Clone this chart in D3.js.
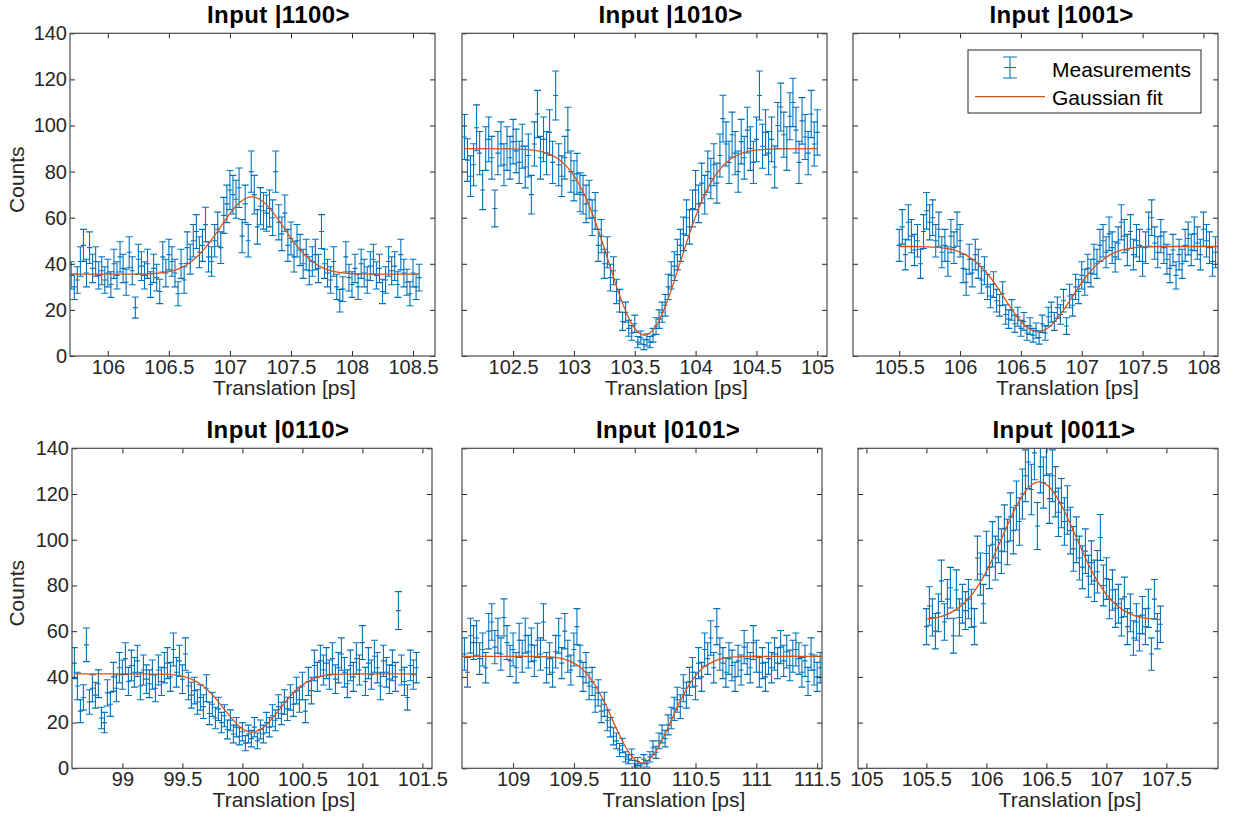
<!DOCTYPE html>
<html>
<head>
<meta charset="utf-8">
<script src="https://cdn.jsdelivr.net/npm/d3@7"></script>
<style>
body { margin: 0; background: #fff; }
text { font-family: "Liberation Sans", Arial, Helvetica, sans-serif; }
</style>
</head>
<body>
<svg width="1235" height="819"></svg>
<script>
// ---- data ----
var titles = ["Input |1100>", "Input |1010>", "Input |1001>", "Input |0110>", "Input |0101>", "Input |0011>"];
var xLimits = [[105.69, 108.68], [102.08, 105.08], [105.12, 108.12], [98.58, 101.58], [108.58, 111.54], [104.93, 107.93]];
var xTickValues = [
    [106, 106.5, 107, 107.5, 108, 108.5],
    [102.5, 103, 103.5, 104, 104.5, 105],
    [105.5, 106, 106.5, 107, 107.5, 108],
    [99, 99.5, 100, 100.5, 101, 101.5],
    [109, 109.5, 110, 110.5, 111, 111.5],
    [105, 105.5, 106, 106.5, 107, 107.5]
];
var yTickValues = [0, 20, 40, 60, 80, 100, 120, 140];

// translation scan: first position and step (ps)
var scanStart = [105.70, 102.10, 105.50, 98.60, 108.60, 105.50];
var scanStep = 0.025;

var counts1100 = [35,30,33,41,48,36,47,38,41,35,37,33,36,31,40,35,43,38,32,45,37,21,42,39,35,40,31,38,34,28,
    43,36,44,41,36,27,40,33,47,42,50,54,45,48,57,43,41,50,55,47,61,66,72,70,68,73,52,66,50,80,
    70,56,65,63,62,64,60,80,58,53,62,48,51,43,50,46,40,44,37,41,44,38,54,40,36,33,41,30,24,29,
    43,34,31,38,30,40,36,33,39,42,35,38,28,33,41,37,39,31,44,36,32,27,36,30,34];
var counts1010 = [95,85,78,83,99,88,72,90,94,86,64,88,92,83,90,86,93,89,84,91,82,87,70,92,105,86,94,88,97,84,
    113,83,78,86,98,80,76,79,71,70,66,68,60,63,48,52,40,45,34,37,28,24,15,19,12,10,14,6,8,5,
    7,6,9,13,16,19,22,30,35,39,44,48,53,60,56,64,72,66,75,70,80,77,83,75,87,103,92,84,96,88,
    80,93,86,98,90,84,94,113,91,97,88,94,82,100,108,96,90,104,110,98,84,102,95,88,105,92,97];
var counts1001 = [48,56,44,58,52,46,50,40,54,63,58,60,50,55,45,48,41,52,47,55,50,38,32,42,36,44,40,33,37,30,
    26,31,24,22,27,18,16,20,14,17,12,15,10,13,9,11,8,14,10,17,19,15,21,18,24,13,26,22,30,28,
    35,32,38,36,42,40,48,50,45,53,47,43,49,58,52,46,54,44,50,48,41,47,55,60,49,45,52,47,42,38,
    46,35,44,40,48,51,46,53,49,44,55,50,47,41,45];
var counts0110 = [46,36,25,31,54,29,35,32,37,22,20,33,28,40,35,44,41,48,38,45,42,47,36,43,39,37,41,35,43,38,
    44,46,40,52,42,47,39,50,36,32,34,29,31,27,35,24,28,22,26,20,23,17,21,15,18,14,16,11,15,13,
    18,12,17,15,20,18,23,21,27,24,29,26,31,28,34,30,36,25,38,34,45,40,47,43,46,41,48,39,44,50,
    42,37,45,40,48,43,55,38,46,41,49,44,36,47,42,39,45,40,69,43,38,31,45,41,44];
var counts0101 = [50,42,58,55,57,48,52,44,60,64,53,58,50,66,55,47,52,44,56,49,58,51,54,47,56,50,64,44,48,42,
    51,58,46,60,49,43,52,62,47,40,44,36,38,30,33,25,28,21,18,14,12,8,10,5,4,6,2,3,1,4,
    2,5,9,7,12,15,13,19,22,26,30,27,35,32,38,42,36,46,40,52,48,57,44,62,50,46,42,48,45,40,
    47,43,53,48,44,55,49,42,46,40,48,44,50,46,53,47,51,45,49,52,48,42,47,38,50,43,40,44];
var counts0011 = [62,71,66,60,68,82,64,74,79,58,78,66,72,69,74,70,62,92,85,72,94,88,98,92,100,95,105,99,110,104,
    115,108,120,128,134,122,138,106,132,125,140,118,128,121,112,116,108,113,104,96,100,92,88,95,84,90,82,86,101,80,
    83,74,78,70,72,66,75,62,68,57,64,59,67,62,70,50,74,60,63];

// Gaussian fit curves, sampled off the figure
var fitX1100 = [105.70,106.18,106.28,106.38,106.48,106.58,106.68,106.78,106.88,106.98,107.08,107.18,107.28,107.38,107.48,107.58,107.68,107.78,107.88,107.98,108.08,108.18,108.55];
var fitY1100 = [35.5,35.5,35.6,35.8,36.4,37.8,40.8,45.8,52.7,60.4,66.6,69.0,66.6,60.4,52.7,45.8,40.8,37.8,36.4,35.8,35.6,35.5,35.5];
var fitX1010 = [102.10,102.48,102.58,102.68,102.78,102.88,102.98,103.08,103.18,103.28,103.38,103.48,103.58,103.68,103.78,103.88,103.98,104.08,104.18,104.28,104.38,104.48,104.58,104.68,105.00];
var fitY1010 = [90.0,89.9,89.7,89.2,88.0,85.1,79.8,70.7,57.7,41.7,25.6,13.5,9.0,13.5,25.6,41.7,57.7,70.7,79.8,85.1,88.0,89.2,89.7,89.9,90.0];
var fitX1001 = [105.50,105.64,105.74,105.84,105.94,106.04,106.14,106.24,106.34,106.44,106.54,106.64,106.74,106.84,106.94,107.04,107.14,107.24,107.34,107.44,107.54,107.64,108.12];
var fitY1001 = [47.5,47.5,47.3,47.0,46.1,44.1,40.4,34.7,27.1,19.1,12.9,10.5,12.9,19.1,27.1,34.7,40.4,44.1,46.1,47.0,47.3,47.5,47.5];
var fitX0110 = [98.60,99.18,99.28,99.38,99.48,99.58,99.68,99.78,99.88,99.98,100.08,100.18,100.28,100.38,100.48,100.58,100.68,100.78,100.88,100.98,101.45];
var fitY0110 = [41.3,41.3,41.2,41.1,40.5,38.9,35.7,30.4,23.8,18.1,15.8,18.1,23.8,30.4,35.7,38.9,40.5,41.1,41.2,41.3,41.3];
var fitX0101 = [108.58,109.16,109.26,109.36,109.46,109.56,109.66,109.76,109.86,109.96,110.06,110.16,110.26,110.36,110.46,110.56,110.66,110.76,110.86,110.96,111.54];
var fitY0101 = [49.0,49.0,48.8,48.4,47.0,43.9,37.6,27.9,16.2,6.3,2.3,6.3,16.2,27.9,37.6,43.9,47.0,48.4,48.8,49.0,49.0];
var fitX0011 = [105.50,105.64,105.74,105.84,105.94,106.04,106.14,106.24,106.34,106.44,106.54,106.64,106.74,106.84,106.94,107.04,107.14,107.24,107.34,107.45];
var fitY0011 = [65.3,66.7,69.2,73.5,80.6,90.4,102.1,113.6,122.2,125.3,122.2,113.6,102.1,90.4,80.6,73.5,69.2,66.7,65.6,65.0];

var allCounts = [counts1100, counts1010, counts1001, counts0110, counts0101, counts0011];
var allFitX = [fitX1100, fitX1010, fitX1001, fitX0110, fitX0101, fitX0011];
var allFitY = [fitY1100, fitY1010, fitY1001, fitY0110, fitY0101, fitY0011];

// ---- layout ----
var boxes = [
    [70, 435, 33.3, 356], [462, 827, 33.3, 356], [853, 1218, 33.3, 356],
    [72, 432, 448.3, 768.3], [462, 822, 448.3, 768.3], [858, 1218, 448.3, 768.3]
];
var blue = "#0072BD", orange = "#D95319", axisCol = "#262626";

var svg = d3.select("svg");
var defs = svg.append("defs");

boxes.forEach(function (b, p) {
    var x = d3.scaleLinear().domain(xLimits[p]).range([b[0], b[1]]);
    var y = d3.scaleLinear().domain([0, 140]).range([b[3], b[2]]);
    var g = svg.append("g");

    defs.append("clipPath").attr("id", "clip" + p)
        .append("rect").attr("x", b[0]).attr("y", b[2])
        .attr("width", b[1] - b[0]).attr("height", b[3] - b[2]);

    var pts = allCounts[p].map(function (c, i) {
        return { x: scanStart[p] + i * scanStep, c: c, e: Math.sqrt(c) }; // Poisson error
    });

    var plot = g.append("g").attr("clip-path", "url(#clip" + p + ")");

    plot.selectAll("path.eb").data(pts).enter().append("path")
        .attr("class", "eb")
        .attr("fill", "none")
        .attr("stroke", blue)
        .attr("stroke-width", 1.1)
        .attr("d", function (d) {
            var px = x(d.x), lo = y(d.c - d.e), hi = y(d.c + d.e), mid = y(d.c);
            return "M" + px + "," + lo + "V" + hi +
                "M" + (px - 3.5) + "," + lo + "h7" +
                "M" + (px - 3.5) + "," + hi + "h7" +
                "M" + (px - 2.5) + "," + mid + "h5";
        });

    var line = d3.line()
        .x(function (d) { return x(d[0]); })
        .y(function (d) { return y(d[1]); })
        .curve(d3.curveMonotoneX);
    plot.append("path")
        .datum(d3.zip(allFitX[p], allFitY[p]))
        .attr("fill", "none")
        .attr("stroke", orange)
        .attr("stroke-width", 1.3)
        .attr("d", line);

    // axes: ticks inward on all four sides
    var fmt = d3.format(".5~g");
    var showY = (p % 3 === 0);
    var axB = g.append("g").attr("transform", "translate(0," + b[3] + ")")
        .call(d3.axisBottom(x).tickValues(xTickValues[p]).tickFormat(fmt)
            .tickSizeInner(-5).tickSizeOuter(0).tickPadding(4));
    var axT = g.append("g").attr("transform", "translate(0," + b[2] + ")")
        .call(d3.axisTop(x).tickValues(xTickValues[p]).tickFormat("")
            .tickSizeInner(-5).tickSizeOuter(0));
    var axL = g.append("g").attr("transform", "translate(" + b[0] + ",0)")
        .call(d3.axisLeft(y).tickValues(yTickValues).tickFormat(showY ? d3.format("d") : "")
            .tickSizeInner(-5).tickSizeOuter(0).tickPadding(3));
    var axR = g.append("g").attr("transform", "translate(" + b[1] + ",0)")
        .call(d3.axisRight(y).tickValues(yTickValues).tickFormat("")
            .tickSizeInner(-5).tickSizeOuter(0));
    [axB, axT, axL, axR].forEach(function (a) {
        a.attr("color", axisCol);
        a.select(".domain").remove();
        a.selectAll("text")
            .attr("font-family", "'Liberation Sans', Arial, sans-serif")
            .attr("font-size", 20)
            .attr("fill", "#262626");
    });

    g.append("rect")
        .attr("x", b[0]).attr("y", b[2])
        .attr("width", b[1] - b[0]).attr("height", b[3] - b[2])
        .attr("fill", "none").attr("stroke", "#4a4a4a").attr("stroke-width", 1.2);

    var cx = (b[0] + b[1]) / 2;
    g.append("text")
        .attr("x", cx + 26).attr("y", b[2] - 10.6)
        .attr("text-anchor", "middle")
        .attr("font-size", 24).attr("font-weight", "bold")
        .attr("letter-spacing", 0.4)
        .attr("fill", "#000")
        .text(titles[p]);

    g.append("text")
        .attr("x", cx + 32).attr("y", b[3] + 39)
        .attr("text-anchor", "middle")
        .attr("font-size", 21)
        .attr("fill", "#262626")
        .text("Translation [ps]");

    if (showY) {
        var cy = (b[2] + b[3]) / 2 - 15;
        g.append("text")
            .attr("transform", "translate(24," + cy + ") rotate(-90)")
            .attr("text-anchor", "middle")
            .attr("font-size", 21)
            .attr("fill", "#262626")
            .text("Counts");
    }

    // legend lives in the third panel
    if (p === 2) {
        var lg = g.append("g");
        lg.append("rect")
            .attr("x", 968).attr("y", 50).attr("width", 233).attr("height", 63)
            .attr("fill", "#fff").attr("stroke", axisCol).attr("stroke-width", 1);
        lg.append("path")
            .attr("fill", "none").attr("stroke", blue).attr("stroke-width", 1.1)
            .attr("d", "M1010,57V78M1003,57h14M1003,78h14M1004,67.5h12");
        lg.append("line")
            .attr("x1", 975).attr("x2", 1045).attr("y1", 96.7).attr("y2", 96.7)
            .attr("stroke", orange).attr("stroke-width", 1.3);
        lg.append("text").attr("x", 1052).attr("y", 77)
            .attr("font-size", 21).attr("fill", "#000").text("Measurements");
        lg.append("text").attr("x", 1052).attr("y", 104.5)
            .attr("font-size", 21).attr("fill", "#000").text("Gaussian fit");
    }
});
</script>
</body>
</html>
